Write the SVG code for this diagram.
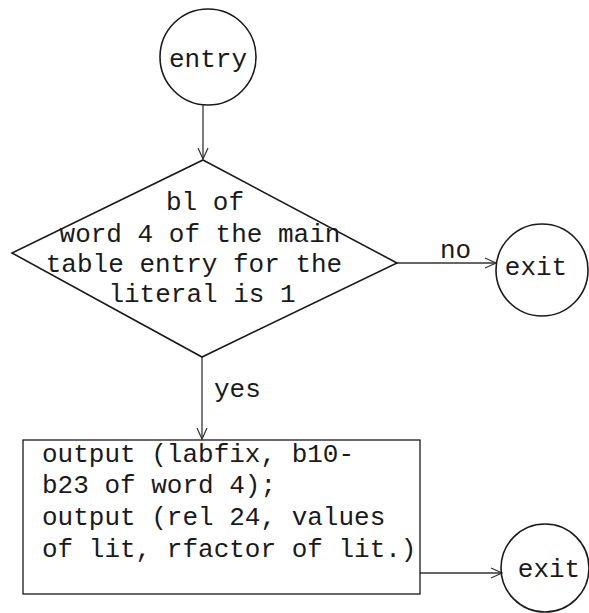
<svg xmlns="http://www.w3.org/2000/svg" width="589" height="613" viewBox="0 0 589 613">
<defs>
<style>
.shape{fill:none;stroke:#1a1a1a;stroke-width:1.6}
.conn{fill:none;stroke:#333;stroke-width:1.3}
.t{font-family:"Liberation Mono","DejaVu Sans Mono",monospace;font-size:26px;fill:#1a1a1a}
.c{text-anchor:middle}
</style>
<marker id="arr" markerUnits="userSpaceOnUse" markerWidth="14" markerHeight="14" refX="12" refY="6" orient="auto">
<path d="M1,1 L12,6 L1,11" fill="none" stroke="#333" stroke-width="1.2"/>
</marker>
</defs>
<rect width="589" height="613" fill="#fff"/>
<g id="connectors">
<line class="conn" x1="203" y1="105" x2="203" y2="159" marker-end="url(#arr)"/>
<line class="conn" x1="397" y1="263" x2="496" y2="263" marker-end="url(#arr)"/>
<line class="conn" x1="202" y1="357" x2="202" y2="439" marker-end="url(#arr)"/>
<line class="conn" x1="420" y1="573" x2="502" y2="573" marker-end="url(#arr)"/>
<text class="t" x="440" y="258">no</text>
<text class="t" x="214" y="397">yes</text>
</g>
<g id="entry">
<circle class="shape" cx="208" cy="57" r="48"/>
<text class="t c" x="208" y="67">entry</text>
</g>
<g id="decision">
<polygon class="shape" points="203,160 397,263 202,357 12,253"/>
<text class="t c" x="205" y="210">bl of</text>
<text class="t c" x="200" y="242">word 4 of the main</text>
<text class="t c" x="194" y="272">table entry for the</text>
<text class="t c" x="202" y="302">literal is 1</text>
</g>
<g id="exit1">
<circle class="shape" cx="542" cy="270" r="46"/>
<text class="t c" x="536" y="275">exit</text>
</g>
<g id="process">
<rect class="shape" x="23" y="440" width="397" height="154" style="stroke-width:1.3"/>
<text class="t" x="42" y="462">output (labfix, b10-</text>
<text class="t" x="42" y="493">b23 of word 4);</text>
<text class="t" x="42" y="525">output (rel 24, values</text>
<text class="t" x="42" y="557">of lit, rfactor of lit.)</text>
</g>
<g id="exit2">
<circle class="shape" cx="545" cy="568" r="44"/>
<text class="t c" x="549" y="577">exit</text>
</g>
</svg>
